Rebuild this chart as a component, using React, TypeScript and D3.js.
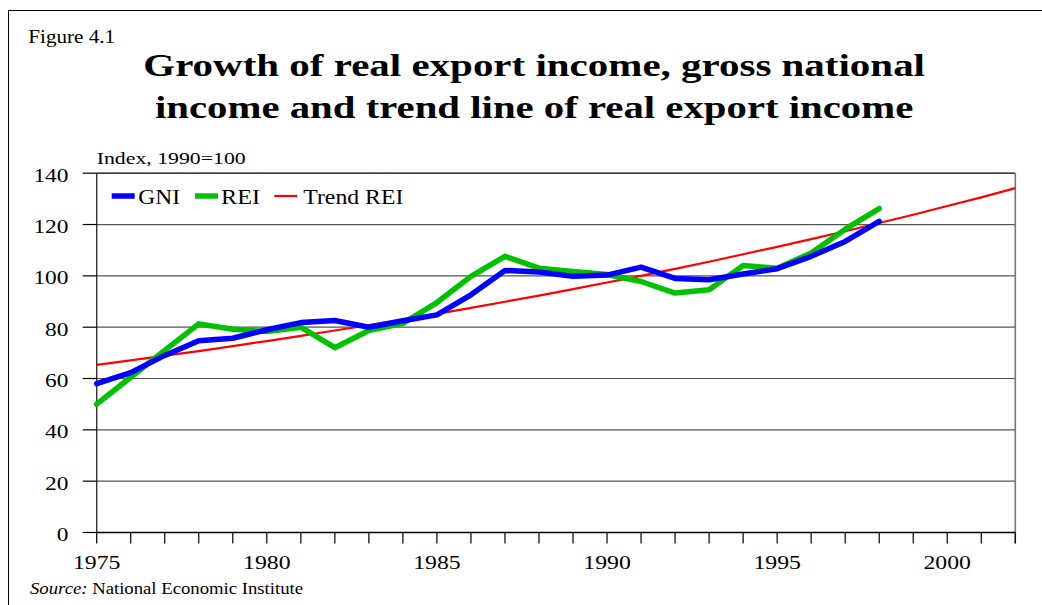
import React from "react";
import * as d3 from "d3";

const years = [1975, 1976, 1977, 1978, 1979, 1980, 1981, 1982, 1983, 1984, 1985, 1986, 1987, 1988, 1989, 1990, 1991, 1992, 1993, 1994, 1995, 1996, 1997, 1998];
const gni = [58, 62.3, 69, 74.7, 75.7, 79, 81.8, 82.6, 80, 82.5, 84.8, 92.6, 102.1, 101.5, 99.8, 100.3, 103.4, 99, 98.5, 100.7, 102.8, 107.6, 113.4, 121.2];
const rei = [50, 60.5, 71, 81.3, 79.2, 78.3, 80, 72, 78.7, 81.5, 89.6, 99.8, 107.6, 103, 101.7, 100.5, 97.8, 93.3, 94.6, 104, 103, 108.9, 118.2, 126.2];
const trendYears = [1975, 1976, 1977, 1978, 1979, 1980, 1981, 1982, 1983, 1984, 1985, 1986, 1987, 1988, 1989, 1990, 1991, 1992, 1993, 1994, 1995, 1996, 1997, 1998, 1999, 2000, 2001, 2002];
const trendRei = [65.3, 67.1, 68.9, 70.7, 72.6, 74.6, 76.6, 78.7, 80.8, 83.0, 85.2, 87.5, 89.9, 92.3, 94.8, 97.4, 100.0, 102.7, 105.5, 108.4, 111.3, 114.3, 117.4, 120.6, 123.8, 127.2, 130.6, 134.2];
const yTicks = [0, 20, 40, 60, 80, 100, 120, 140];
const xTickYears = [1975, 1976, 1977, 1978, 1979, 1980, 1981, 1982, 1983, 1984, 1985, 1986, 1987, 1988, 1989, 1990, 1991, 1992, 1993, 1994, 1995, 1996, 1997, 1998, 1999, 2000, 2001, 2002];
const xLabelYears = [1975, 1980, 1985, 1990, 1995, 2000];
const titleLines = ["Growth of real export income, gross national", "income and trend line of real export income"];
const legendItems = [
  { name: "GNI", color: "#0000ff", width: 5.5 },
  { name: "REI", color: "#00c000", width: 5.5 },
  { name: "Trend REI", color: "#ff0000", width: 2.2 },
];

const FONT = "'Liberation Serif', 'Times New Roman', serif";

export default function App() {
  const left = 96.7, right = 1015.3, top = 173.2, bottom = 532.5;
  const x = d3.scaleLinear().domain([1975, 2002]).range([left, right]);
  const y = d3.scaleLinear().domain([0, 140]).range([bottom, top]);

  const line = d3
    .line<[number, number]>()
    .x((d) => x(d[0]))
    .y((d) => y(d[1]));

  const gniPts = years.map((yr, i) => [yr, gni[i]] as [number, number]);
  const reiPts = years.map((yr, i) => [yr, rei[i]] as [number, number]);
  const trendPts = trendYears.map((yr, i) => [yr, trendRei[i]] as [number, number]);

  const legendX = [111.7, 195, 274.3];
  const legendTextX = [138.3, 221, 303.3];
  const legendTextW = [41.7, 39, 100];
  const legendY = 196;

  return (
    <svg
      width={1042}
      height={605}
      style={{ position: "absolute", left: 0, top: 0, background: "#fff" }}
      fontFamily={FONT}
    >
      <rect x={0} y={0} width={1042} height={605} fill="#fff" />
      {/* outer frame */}
      <line x1={8.5} y1={10.5} x2={1042} y2={10.5} stroke="#000" strokeWidth={1} />
      <line x1={8.5} y1={10.5} x2={8.5} y2={605} stroke="#000" strokeWidth={1} />

      <text x={28.3} y={42.7} fontSize={18} textLength={86.7} lengthAdjust="spacingAndGlyphs">
        Figure 4.1
      </text>
      <text x={143.3} y={76} fontSize={32} fontWeight="bold" textLength={781.7} lengthAdjust="spacingAndGlyphs">
        {titleLines[0]}
      </text>
      <text x={155} y={118.3} fontSize={32} fontWeight="bold" textLength={758.3} lengthAdjust="spacingAndGlyphs">
        {titleLines[1]}
      </text>

      <text x={96.7} y={163.5} fontSize={17.5} textLength={149} lengthAdjust="spacingAndGlyphs">
        Index, 1990=100
      </text>

      {/* gridlines */}
      {yTicks.filter((t) => t > 0 && t < 140).map((t) => (
        <line key={t} x1={left} x2={right} y1={y(t)} y2={y(t)} stroke="#555" strokeWidth={1.2} />
      ))}
      {/* plot borders */}
      <line x1={left} x2={right} y1={y(140)} y2={y(140)} stroke="#000" strokeWidth={1.2} />
      <line x1={right} x2={right} y1={top} y2={bottom + 11} stroke="#777" strokeWidth={1.6} />
      <line x1={left} x2={left} y1={top} y2={bottom} stroke="#333" strokeWidth={1.4} />
      <line x1={left} x2={right} y1={bottom} y2={bottom} stroke="#000" strokeWidth={1.4} />

      {/* y ticks and labels */}
      {yTicks.map((t) => (
        <g key={t}>
          <line x1={left - 14} x2={left} y1={y(t)} y2={y(t)} stroke="#000" strokeWidth={1.2} />
          <text
            x={68.5}
            y={y(t) + 8.5}
            fontSize={18.5}
            textAnchor="end"
            textLength={String(t).length * 11.7}
            lengthAdjust="spacingAndGlyphs"
          >
            {t}
          </text>
        </g>
      ))}

      {/* x ticks and labels */}
      {xTickYears.map((yr) => (
        <line key={yr} x1={x(yr)} x2={x(yr)} y1={bottom} y2={bottom + 11} stroke="#000" strokeWidth={1.2} />
      ))}
      {xLabelYears.map((yr) => (
        <text
          key={yr}
          x={x(yr)}
          y={569}
          fontSize={18.5}
          textAnchor="middle"
          textLength={47.5}
          lengthAdjust="spacingAndGlyphs"
        >
          {yr}
        </text>
      ))}

      {/* series */}
      <path d={line(trendPts) || ""} fill="none" stroke="#ff0000" strokeWidth={2.2} />
      <path d={line(reiPts) || ""} fill="none" stroke="#00c000" strokeWidth={5.5} strokeLinejoin="round" strokeLinecap="round" />
      <path d={line(gniPts) || ""} fill="none" stroke="#0000ff" strokeWidth={5.5} strokeLinejoin="round" strokeLinecap="round" />

      {/* legend */}
      {legendItems.map((it, i) => (
        <g key={it.name}>
          <line
            x1={legendX[i]}
            x2={legendX[i] + 23}
            y1={legendY}
            y2={legendY}
            stroke={it.color}
            strokeWidth={it.width}
          />
          <text
            x={legendTextX[i]}
            y={204.3}
            fontSize={21.5}
            textLength={legendTextW[i]}
            lengthAdjust="spacingAndGlyphs"
          >
            {it.name}
          </text>
        </g>
      ))}

      {/* source */}
      <text x={30} y={594} fontSize={16} textLength={273} lengthAdjust="spacingAndGlyphs">
        <tspan fontStyle="italic">Source:</tspan>
        <tspan> National Economic Institute</tspan>
      </text>
    </svg>
  );
}
